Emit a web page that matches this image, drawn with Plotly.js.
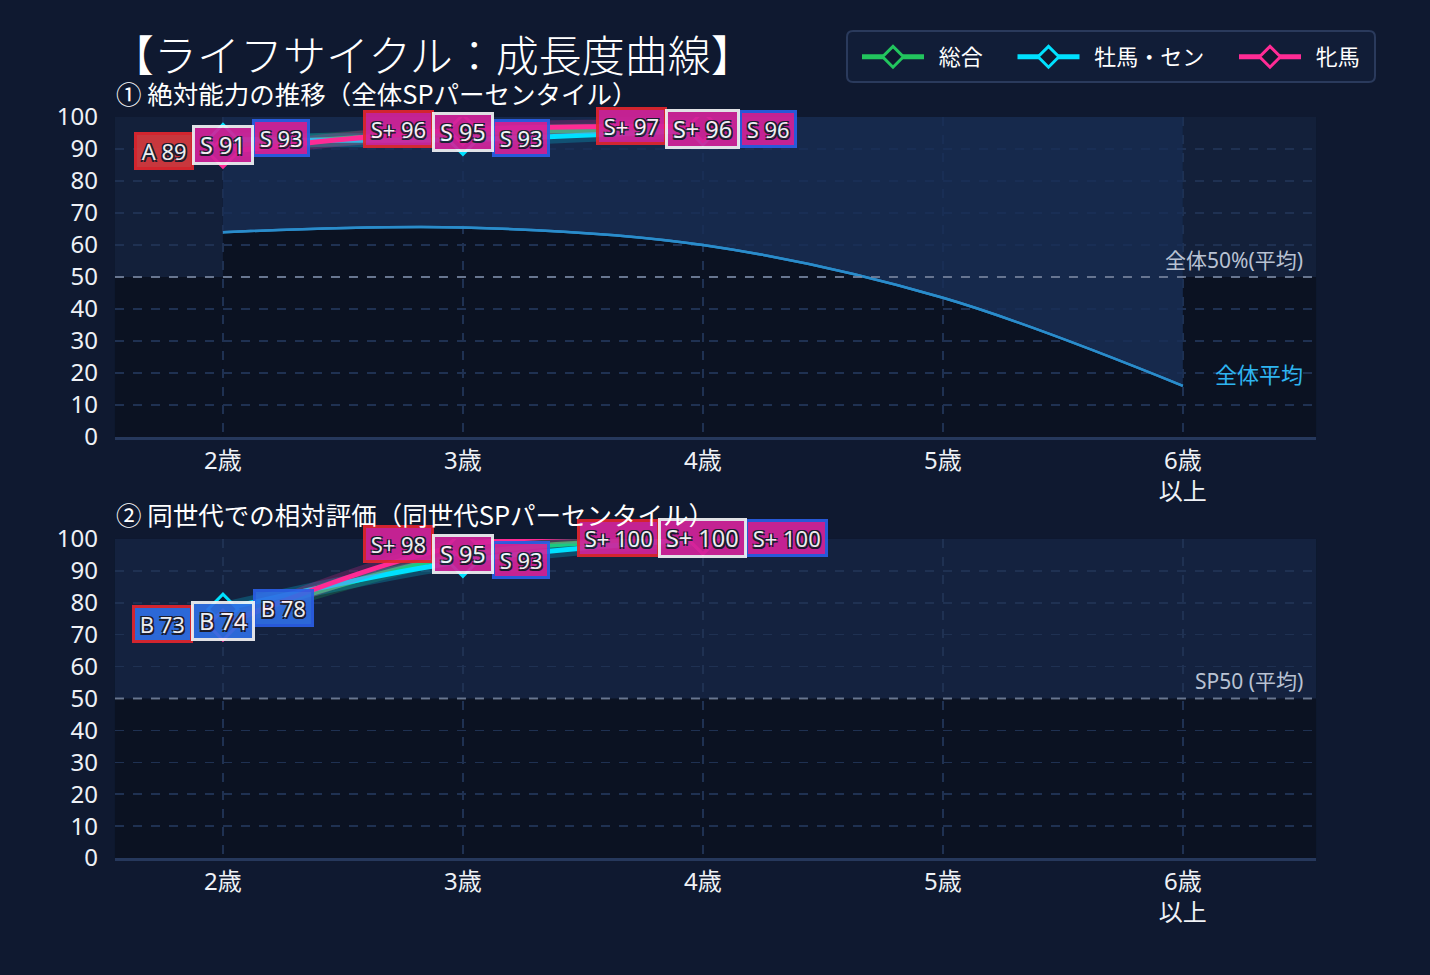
<!DOCTYPE html>
<html>
<head>
<meta charset="utf-8">
<script src="https://cdn.plot.ly/plotly-3.0.1.min.js"></script>
<style>
  html, body { margin: 0; padding: 0; background: #0f1930; }
</style>
</head>
<body>
<div id="chart" style="width:1430px;height:975px;"></div>
<script>
//data
var ages = [2, 3, 4, 5, 6];
var ageLabels = ["2歳", "3歳", "4歳", "5歳", "6歳<br>以上"];
var seriesNames = ["総合", "牡馬・セン", "牝馬"];

//① absolute (全体SPパーセンタイル)
var absTotal = [91, 95, 96];
var absColt = [93, 93, 96];
var absFilly = [89, 96, 97];
var absTotalGrade = ["S", "S", "S+"];
var absColtGrade = ["S", "S", "S"];
var absFillyGrade = ["A", "S+", "S+"];
var absAverage = [64, 65.5, 60, 43.5, 16];

//② relative (同世代SPパーセンタイル)
var relTotal = [74, 95, 100];
var relColt = [78, 93, 100];
var relFilly = [73, 98, 100];
var relTotalGrade = ["B", "S", "S+"];
var relColtGrade = ["B", "S", "S+"];
var relFillyGrade = ["B", "S+", "S+"];

//styles
var colors = { "総合": "#22c55e", "牡馬・セン": "#00e1ff", "牝馬": "#ff2b95" };
var gradeFill = { "S+": "#d3239b", "S": "#d3239b", "A": "#d83a3e", "B": "#2f6fe4" };
var peakColor = "#f5b82a";
var font = "Noto Sans, Noto Sans CJK JP, sans-serif";
var cjk = "Noto Sans CJK JP, sans-serif";
var darkBg = "#0b1222";
var NB = "\u00a0";
var PAD = "\u2009";

var traces = [];
var annotations = [];

/*
one panel: glowing lines + diamond markers on axes (xa, ya)
the overall series marks its peak in gold
*/
function addSeries(xa, ya, vals, name, showLegend) {
  var xs = ages.slice(0, vals.length);
  var peak = vals.indexOf(Math.max.apply(null, vals));
  var markerLine = vals.map(function (v, i) {
    return name === "総合" && i === peak ? peakColor : colors[name];
  });
  traces.push({
    x: xs, y: vals, xaxis: xa, yaxis: ya,
    mode: "lines", line: { color: colors[name], width: 14, shape: "spline", smoothing: 1 },
    opacity: 0.22, hoverinfo: "skip", showlegend: false,
  });
  traces.push({
    x: xs, y: vals, xaxis: xa, yaxis: ya, name: NB + NB + name,
    mode: "lines+markers",
    line: { color: colors[name], width: 5, shape: "spline", smoothing: 1 },
    marker: { symbol: "diamond", size: 23, color: "#0f1930", line: { color: markerLine, width: 3 } },
    showlegend: showLegend, legendgroup: name,
  });
}

//label box width in px, measured with canvas
var ctx = document.createElement("canvas").getContext("2d");
function boxWidth(txt, size) {
  ctx.font = size + "px 'Noto Sans'";
  return ctx.measureText(txt).width + 2 * 1 + 2 * 3;
}

function addLabels(xa, ya, total, colt, filly, gT, gC, gF) {
  var overlap = 2;
  for (var i = 0; i < total.length; i++) {
    var tT = PAD + gT[i] + " " + total[i] + PAD;
    var tC = PAD + gC[i] + " " + colt[i] + PAD;
    var tF = PAD + gF[i] + " " + filly[i] + PAD;
    var wT = boxWidth(tT, 23.5);
    var items = [
      { txt: tF, y: filly[i], g: gF[i], border: "#e3262e", size: 22,
        shift: -(wT / 2 + boxWidth(tF, 22) / 2 - overlap) },
      { txt: tC, y: colt[i], g: gC[i], border: "#2a5ee6", size: 22,
        shift: wT / 2 + boxWidth(tC, 22) / 2 - overlap },
      { txt: tT, y: total[i], g: gT[i], border: "#f2f2f5", size: 23.5, shift: 0 },
    ];
    items.forEach(function (it) {
      annotations.push({
        xref: xa, yref: ya, x: ages[i], y: it.y, xshift: it.shift, yshift: 1,
        text: it.txt, showarrow: false,
        font: {
          family: font, size: it.size, color: "#ffffff",
          shadow: "1.5px 1.5px 0 #1c1c2c, -1.5px -1.5px 0 #1c1c2c, 1.5px -1.5px 0 #1c1c2c, -1.5px 1.5px 0 #1c1c2c",
        },
        bgcolor: gradeFill[it.g], bordercolor: it.border, borderwidth: 3, borderpad: 1, opacity: 0.92,
      });
    });
  }
}

//top panel background: light band above the average curve (2歳..6歳)
traces.push({
  x: ages, y: absAverage, xaxis: "x", yaxis: "y",
  mode: "lines", line: { color: "#2a8ccb", width: 2.5, shape: "spline", smoothing: 1 },
  hoverinfo: "skip", showlegend: false,
});
traces.push({
  x: ages, y: ages.map(function () { return 100; }), xaxis: "x", yaxis: "y",
  mode: "lines", line: { width: 0 }, fill: "tonexty", fillcolor: "rgba(25,46,86,0.82)",
  hoverinfo: "skip", showlegend: false,
});
//redraw the curve over the fill
traces.push({
  x: ages, y: absAverage, xaxis: "x", yaxis: "y",
  mode: "lines", line: { color: "#2a8ccb", width: 2.5, shape: "spline", smoothing: 1 },
  name: "全体平均", showlegend: false,
});

addSeries("x", "y", absTotal, "総合", true);
addSeries("x", "y", absColt, "牡馬・セン", true);
addSeries("x", "y", absFilly, "牝馬", true);
addSeries("x2", "y2", relTotal, "総合", false);
addSeries("x2", "y2", relColt, "牡馬・セン", false);
addSeries("x2", "y2", relFilly, "牝馬", false);

addLabels("x", "y", absTotal, absColt, absFilly, absTotalGrade, absColtGrade, absFillyGrade);
addLabels("x2", "y2", relTotal, relColt, relFilly, relTotalGrade, relColtGrade, relFillyGrade);

//titles and reference-line labels
annotations.push(
  { xref: "paper", yref: "paper", x: 0.0765, y: 0.946, xanchor: "left", yanchor: "middle", showarrow: false,
    text: "【ライフサイクル：成長度曲線】", font: { family: cjk, size: 43, weight: 300, color: "#ffffff" } },
  { xref: "paper", yref: "paper", x: 0.0795, y: 0.905, xanchor: "left", yanchor: "middle", showarrow: false,
    text: "① 絶対能力の推移（全体SPパーセンタイル）", font: { family: cjk, size: 25.5, color: "#ffffff" } },
  { xref: "paper", yref: "paper", x: 0.0795, y: 0.473, xanchor: "left", yanchor: "middle", showarrow: false,
    text: "② 同世代での相対評価（同世代SPパーセンタイル）", font: { family: cjk, size: 25.5, color: "#ffffff" } },
  { xref: "x", yref: "y", x: 6.51, y: 50, xanchor: "right", yanchor: "bottom", yshift: 1, showarrow: false,
    text: "全体50%(平均)", font: { family: font, size: 21, color: "#b9c2d3" } },
  { xref: "x", yref: "y", x: 6.51, y: 20, xanchor: "right", yanchor: "middle", showarrow: false,
    text: "全体平均", font: { family: cjk, size: 22, color: "#2eb4f0" } },
  { xref: "x2", yref: "y2", x: 6.51, y: 50, xanchor: "right", yanchor: "bottom", yshift: 1, showarrow: false,
    text: "SP50 (平均)", font: { family: font, size: 21, color: "#b9c2d3" } }
);

//rounded rectangle path in paper coords, radius r in px
function roundRect(x0, y0, x1, y1, r) {
  var rx = r / 1430, ry = r / 975;
  return "M" + (x0 + rx) + "," + y0 + " L" + (x1 - rx) + "," + y0 +
    " Q" + x1 + "," + y0 + " " + x1 + "," + (y0 + ry) +
    " L" + x1 + "," + (y1 - ry) + " Q" + x1 + "," + y1 + " " + (x1 - rx) + "," + y1 +
    " L" + (x0 + rx) + "," + y1 + " Q" + x0 + "," + y1 + " " + x0 + "," + (y1 - ry) +
    " L" + x0 + "," + (y0 + ry) + " Q" + x0 + "," + y0 + " " + (x0 + rx) + "," + y0 + " Z";
}

var shapes = [
  //legend box (rounded)
  { type: "path", xref: "paper", yref: "paper", layer: "below",
    path: roundRect(847 / 1430, 1 - 82 / 975, 1375 / 1430, 1 - 31 / 975, 6),
    fillcolor: "#111d37", line: { color: "#2a3a5c", width: 2 } },
  { type: "rect", xref: "x domain", yref: "y", x0: 0, x1: 1, y0: 0, y1: 50, fillcolor: darkBg, line: { width: 0 }, layer: "below" },
  { type: "rect", xref: "x", yref: "y", x0: 2, x1: 6, y0: 0, y1: 100, fillcolor: darkBg, line: { width: 0 }, layer: "below" },
  { type: "rect", xref: "x2 domain", yref: "y2", x0: 0, x1: 1, y0: 50, y1: 100, fillcolor: "#14223f", line: { width: 0 }, layer: "below" },
  { type: "rect", xref: "x2 domain", yref: "y2", x0: 0, x1: 1, y0: 0, y1: 50, fillcolor: darkBg, line: { width: 0 }, layer: "below" },
  { type: "line", xref: "x domain", yref: "y", x0: 0, x1: 1, y0: 50, y1: 50, line: { color: "rgba(130,142,165,0.75)", width: 2, dash: "dash" }, layer: "above" },
  { type: "line", xref: "x2 domain", yref: "y2", x0: 0, x1: 1, y0: 50, y1: 50, line: { color: "rgba(130,142,165,0.75)", width: 2, dash: "dash" }, layer: "above" },
];

function xAxis() {
  return {
    domain: [0.0804, 0.9203], range: [1.55, 6.555],
    tickvals: ages, ticktext: ageLabels,
    tickfont: { family: font, size: 24, color: "#eef1f6" },
    showgrid: true, gridcolor: "#1f3152", griddash: "dash", gridwidth: 2,
    showline: true, linecolor: "#26385c", linewidth: 3,
    zeroline: false, ticks: "", fixedrange: true,
  };
}
function yAxis(domain) {
  return {
    domain: domain, range: [0, 100], dtick: 10,
    tickfont: { family: font, size: 24, color: "#eef1f6" },
    showgrid: true, gridcolor: "#1f3152", griddash: "dash", gridwidth: 1.5,
    zeroline: false, ticks: "", ticklabelstandoff: 16, fixedrange: true,
  };
}

var xa1 = xAxis(); xa1.anchor = "y";
var xa2 = xAxis(); xa2.anchor = "y2";
var ya1 = yAxis([0.5518, 0.88]); ya1.anchor = "x";
var ya2 = yAxis([0.12, 0.4472]); ya2.anchor = "x2";

//legend labels get extra trailing room like the reference
traces.forEach(function (t) {
  if (t.showlegend && t.legendgroup !== "牝馬") t.name = t.name + NB + NB + NB + NB + NB;
});

var layout = {
  width: 1430, height: 975,
  margin: { l: 0, r: 0, t: 0, b: 0 },
  paper_bgcolor: "#0f1930",
  plot_bgcolor: "#13203a",
  font: { family: font, color: "#ffffff" },
  xaxis: xa1, yaxis: ya1, xaxis2: xa2, yaxis2: ya2,
  shapes: shapes,
  annotations: annotations,
  showlegend: true,
  legend: {
    orientation: "h", x: 1111 / 1430, xanchor: "center", y: 1 - 57 / 975, yanchor: "middle",
    bgcolor: "rgba(0,0,0,0)", borderwidth: 0,
    font: { family: cjk, size: 22, color: "#ffffff" },
    itemwidth: 62,
  },
};

Plotly.newPlot("chart", traces, layout, { displayModeBar: false, staticPlot: true });
</script>
</body>
</html>
